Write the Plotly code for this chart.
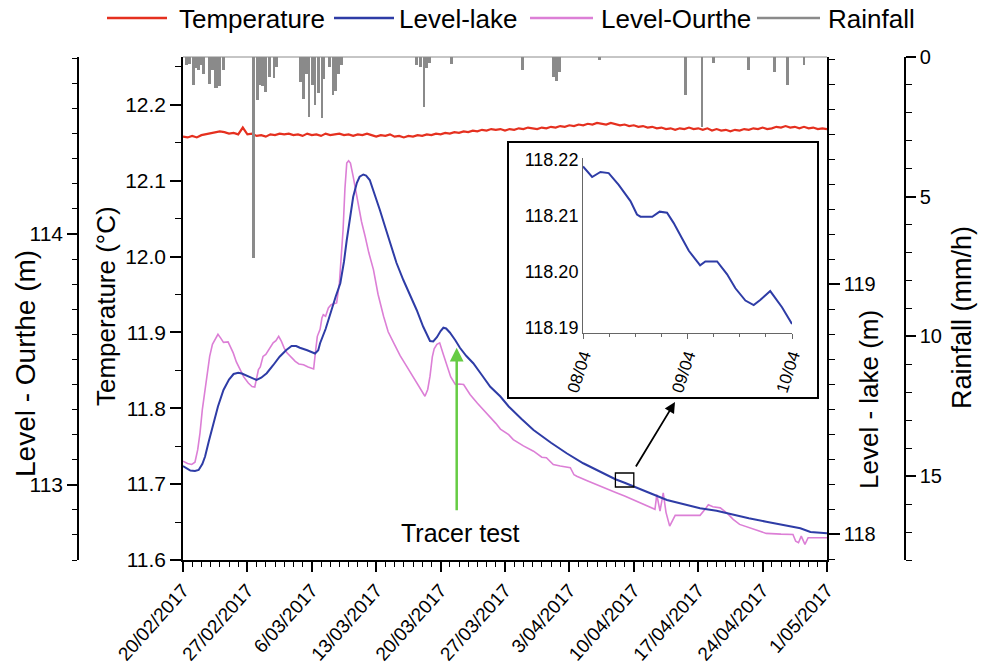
import pandas as pd
import plotly.graph_objects as go

# ---------------------------------------------------------------- data
START = pd.Timestamp("2017-02-20")
END = pd.Timestamp("2017-05-01")

# Water temperature (°C), one reading every half day from 20/02/2017
temp_step_days = 0.5
temp_c = [
    12.158, 12.157, 12.159, 12.157, 12.160, 12.161, 12.163, 12.164, 12.165, 12.164,
    12.162, 12.163, 12.161, 12.170, 12.161, 12.162, 12.159, 12.160, 12.158, 12.161,
    12.160, 12.162, 12.161, 12.162, 12.160, 12.161, 12.159, 12.162, 12.160, 12.161,
    12.159, 12.162, 12.160, 12.161, 12.162, 12.160, 12.161, 12.159, 12.161, 12.160,
    12.162, 12.160, 12.158, 12.160, 12.159, 12.161, 12.158, 12.159, 12.157, 12.159,
    12.158, 12.160, 12.159, 12.161, 12.160, 12.162, 12.161, 12.163, 12.162, 12.164,
    12.163, 12.165, 12.164, 12.166, 12.165, 12.167, 12.166, 12.168, 12.167, 12.168,
    12.166, 12.168, 12.167, 12.169, 12.168, 12.170, 12.169, 12.168, 12.170, 12.169,
    12.171, 12.170, 12.172, 12.171, 12.173, 12.172, 12.174, 12.173, 12.175, 12.174,
    12.176, 12.175, 12.174, 12.176, 12.174, 12.173, 12.174, 12.172, 12.173, 12.171,
    12.172, 12.170, 12.171, 12.169, 12.170, 12.168, 12.169, 12.167, 12.169, 12.168,
    12.170, 12.168, 12.169, 12.167, 12.169, 12.166, 12.168, 12.166, 12.167, 12.165,
    12.167, 12.166, 12.168, 12.167, 12.169, 12.168, 12.170, 12.168, 12.169, 12.171,
    12.170, 12.172, 12.170, 12.171, 12.169, 12.171, 12.169, 12.170, 12.168, 12.169,
    12.168,
]

# Lake level (m), days after 20/02/2017
lake_days = [
    0.0, 0.4, 0.8, 1.3, 1.7, 2.1, 2.4, 2.8, 3.3, 3.8, 4.4, 5.0, 5.5, 6.0, 6.4, 7.0,
    7.5, 8.0, 8.5, 9.1, 9.8, 10.5, 11.2, 11.8, 12.3, 12.7, 13.5, 14.35, 14.7, 14.9,
    15.5, 16.0, 16.6, 17.1, 17.5, 17.8, 18.2, 18.5, 18.9, 19.2, 19.6, 19.9, 20.3,
    20.8, 21.4, 22.0, 22.5, 23.2, 23.95, 24.7, 25.4, 26.1, 26.85, 27.2, 27.6, 28.0,
    28.3, 28.6, 29.0, 29.6, 30.1, 30.8, 31.55, 32.5, 33.4, 34.5, 35.4, 36.8, 38.1,
    40.0, 41.7, 43.5, 45.3, 47.0, 48.0, 49.0, 50.0, 50.8, 52.6, 54.5, 56.2, 58.0,
    59.8, 61.5, 63.4, 65.3, 67.1, 68.2, 69.0, 70.0,
]
lake_m = [
    118.272, 118.262, 118.254, 118.252, 118.256, 118.280, 118.310, 118.370, 118.443,
    118.510, 118.576, 118.618, 118.640, 118.645, 118.642, 118.632, 118.622, 118.616,
    118.625, 118.643, 118.675, 118.709, 118.735, 118.752, 118.752, 118.745, 118.735,
    118.722, 118.735, 118.763, 118.820, 118.883, 118.950, 119.003, 119.090, 119.176,
    119.280, 119.349, 119.405, 119.429, 119.438, 119.434, 119.416, 119.365, 119.296,
    119.225, 119.163, 119.085, 119.016, 118.955, 118.896, 118.830, 118.772, 118.770,
    118.787, 118.812, 118.825, 118.822, 118.806, 118.775, 118.745, 118.712, 118.683,
    118.635, 118.589, 118.550, 118.510, 118.460, 118.416, 118.365, 118.323, 118.283,
    118.249, 118.219, 118.205, 118.191, 118.176, 118.163, 118.136, 118.118, 118.103,
    118.093, 118.077, 118.063, 118.049, 118.036, 118.023, 118.008, 118.006, 118.003,
]

# Ourthe level (m), days after 20/02/2017
ourthe_days = [
    0.0, 0.5, 0.95, 1.3, 1.6, 1.85, 2.1, 2.4, 2.7, 2.9, 3.2, 3.5, 3.8, 4.1, 4.4, 4.9,
    5.2, 5.46, 5.8, 6.2, 6.6, 7.1, 7.5, 7.8, 8.0, 8.2, 8.4, 8.7, 9.0, 9.3, 9.8, 10.1,
    10.4, 10.7, 11.0, 11.3, 11.8, 12.2, 12.6, 13.1, 13.6, 14.2, 14.4, 14.6, 14.9,
    15.1, 15.25, 15.5, 15.8, 16.1, 16.4, 16.7, 17.0, 17.2, 17.4, 17.6, 17.8, 18.0,
    18.2, 18.5, 18.8, 19.05, 19.4, 19.8, 20.2, 20.7, 21.2, 21.8, 22.3, 22.9, 23.6,
    24.3, 25.0, 25.7, 26.3, 26.6, 26.85, 27.1, 27.3, 27.6, 27.9, 28.3, 28.7, 29.1,
    29.6, 30.0, 30.5, 31.2, 32.0, 33.0, 34.0, 34.5, 35.4, 35.9, 37.0, 38.1, 39.0,
    39.5, 40.25, 41.0, 42.1, 42.5, 42.8, 44.0, 45.3, 46.2, 47.1, 48.0, 48.9, 50.0,
    51.3, 51.5, 51.85, 52.2, 52.5, 52.9, 53.2, 53.5, 55.0, 56.2, 56.7, 57.1, 57.6,
    58.4, 59.2, 59.8, 60.5, 61.5, 62.5, 63.4, 65.0, 66.3, 66.6, 66.9, 67.2, 67.6,
    67.95, 69.0, 70.0,
]
ourthe_m = [
    113.094, 113.085, 113.081, 113.090, 113.140, 113.207, 113.300, 113.380, 113.470,
    113.512, 113.560, 113.579, 113.600, 113.585, 113.568, 113.570, 113.545, 113.526,
    113.490, 113.459, 113.430, 113.406, 113.392, 113.390, 113.420, 113.459, 113.470,
    113.512, 113.520, 113.539, 113.566, 113.575, 113.592, 113.572, 113.545, 113.526,
    113.505, 113.492, 113.482, 113.479, 113.470, 113.462, 113.530, 113.592, 113.620,
    113.665, 113.678, 113.672, 113.705, 113.718, 113.722, 113.725, 113.805, 113.900,
    114.017, 114.180, 114.283, 114.292, 114.283, 114.229, 114.170, 114.110, 114.050,
    113.990, 113.925, 113.858, 113.760, 113.672, 113.610, 113.566, 113.515, 113.473,
    113.430, 113.390, 113.353, 113.380, 113.433, 113.510, 113.542, 113.560, 113.566,
    113.520, 113.473, 113.430, 113.400, 113.402, 113.400, 113.360, 113.325, 113.287,
    113.245, 113.222, 113.200, 113.180, 113.155, 113.134, 113.110, 113.108, 113.081,
    113.075, 113.068, 113.040, 113.034, 113.015, 112.994, 112.980, 112.968, 112.955,
    112.941, 112.922, 112.902, 112.961, 112.895, 112.968, 112.890, 112.835, 112.860,
    112.878, 112.878, 112.878, 112.900, 112.920, 112.912, 112.908, 112.885, 112.862,
    112.842, 112.830, 112.815, 112.806, 112.803, 112.802, 112.775, 112.769, 112.795,
    112.762, 112.789, 112.789, 112.789,
]

# Rainfall intensity (mm/h), days after 20/02/2017
rain_days = [
    0.4, 0.7, 1.1, 1.4, 1.7, 2.0, 2.2, 2.9, 3.2, 3.5, 3.7, 3.95, 4.4,
    7.7, 8.1, 8.4, 8.6, 9.0, 9.4, 9.9, 10.2,
    12.8, 13.1, 13.4, 13.7, 14.1, 14.35, 14.7, 15.1, 15.3, 15.9, 16.3, 16.6, 16.9, 17.25,
    25.4, 25.8, 26.2, 26.5, 26.8, 29.2, 36.9, 40.3, 40.6, 40.9, 45.3,
    54.6, 56.4, 57.7, 61.5, 64.3, 65.7, 67.5,
]
rain_mm_h = [
    0.30, 0.25, 1.00, 0.40, 0.45, 0.30, 0.60, 0.95, 0.45, 1.10, 1.10, 1.05, 0.45,
    7.20, 1.55, 1.00, 1.05, 1.25, 0.70, 0.75, 0.35,
    0.90, 1.50, 0.60, 2.15, 1.00, 1.70, 1.30, 2.20, 0.80, 0.35, 1.35, 1.20, 0.60, 0.30,
    0.30, 0.35, 1.80, 0.40, 0.20, 0.25, 0.45, 0.70, 0.85, 0.55, 0.12,
    1.35, 2.50, 0.20, 0.45, 0.55, 1.00, 0.30,
]

# Detail of the lake level, hours after 08/04/2017 00:00
INSET_START = pd.Timestamp("2017-04-08")
INSET_END = pd.Timestamp("2017-04-10")
inset_hours = [
    0.0, 2.1, 4.0, 5.9, 8.2, 10.9, 12.4, 13.2, 15.9, 17.6, 19.3, 20.8, 22.7,
    24.3, 26.9, 28.1, 30.8, 33.1, 35.0, 37.3, 39.2, 40.7, 43.0, 45.7, 48.0,
]
inset_lake_m = [
    118.2188, 118.2169, 118.2178, 118.2176, 118.2155, 118.2126, 118.2102, 118.2098,
    118.2098, 118.2107, 118.2105, 118.2087, 118.2060, 118.2037, 118.2011, 118.2018,
    118.2018, 118.1995, 118.1970, 118.1948, 118.1940, 118.1949, 118.1965, 118.1936,
    118.1906,
]

TRACER_TEST = pd.Timestamp("2017-03-21 18:00")

series_names = ["Temperature", "Level-lake", "Level-Ourthe", "Rainfall"]

# ---------------------------------------------------------------- style
RED = "#e5301f"
BLUE = "#2e3ca6"
PINK = "#dc7fd6"
GREY = "#8a8a8a"
GREEN = "#66cc44"
FONT = "Liberation Sans, Arial, sans-serif"

W, H = 989, 669
M_L, M_R, M_T, M_B = 78, 84, 57, 109
PW, PH = W - M_L - M_R, H - M_T - M_B


def px_x(px):
    return (px - M_L) / PW


def px_y(py):
    return 1 - (py - M_T) / PH


def to_time(days, origin=START, unit="D"):
    return [origin + pd.Timedelta(d, unit=unit) for d in days]


temp_time = to_time([i * temp_step_days for i in range(len(temp_c))])
DAY_MS = 86400000

fig = go.Figure()
fig.add_trace(go.Bar(
    x=to_time(rain_days), y=rain_mm_h, yaxis="y4", name="Rainfall",
    marker=dict(color=GREY, line=dict(width=0)), width=0.3 * DAY_MS,
))
fig.add_trace(go.Scatter(
    x=temp_time, y=temp_c, yaxis="y", mode="lines", name="Temperature",
    line=dict(color=RED, width=2.2),
))
fig.add_trace(go.Scatter(
    x=to_time(ourthe_days), y=ourthe_m, yaxis="y2", mode="lines", name="Level-Ourthe",
    line=dict(color=PINK, width=1.6),
))
fig.add_trace(go.Scatter(
    x=to_time(lake_days), y=lake_m, yaxis="y3", mode="lines", name="Level-lake",
    line=dict(color=BLUE, width=2),
))
fig.add_trace(go.Scatter(
    x=to_time(inset_hours, INSET_START, "h"), y=inset_lake_m, xaxis="x2", yaxis="y5",
    mode="lines", line=dict(color=BLUE, width=2), showlegend=False,
))

axis_base = dict(
    showline=True, linecolor="black", linewidth=1.5, showgrid=False, zeroline=False,
    automargin=False, ticks="outside", tickcolor="black", tickwidth=1.5,
    tickfont=dict(family=FONT, size=21, color="black"),
)
minor_base = dict(ticks="outside", tickcolor="black", tickwidth=1.2)

X0, X1 = px_x(183), px_x(827)

fig.update_layout(
    width=W, height=H, autosize=False,
    margin=dict(l=M_L, r=M_R, t=M_T, b=M_B, pad=0, autoexpand=False),
    paper_bgcolor="white", plot_bgcolor="rgba(0,0,0,0)",
    showlegend=False, bargap=0,
    font=dict(family=FONT, color="black"),
    xaxis=dict(
        axis_base, domain=[X0, X1], anchor="y", type="date",
        range=[START, END], tick0=START, dtick=7 * DAY_MS,
        tickformat="%-d/%m/%Y", tickangle=-48, ticklen=10,
        tickfont=dict(family=FONT, size=19, color="black"),
        minor=dict(minor_base, dtick=DAY_MS, ticklen=5),
    ),
    yaxis=dict(
        axis_base, anchor="x", side="left", range=[11.6, 12.263],
        tick0=11.6, dtick=0.1, tickformat=".1f", ticklen=11,
        minor=dict(minor_base, dtick=0.05, ticklen=6),
    ),
    yaxis2=dict(
        axis_base, overlaying="y", anchor="free", position=0, side="left",
        range=[112.70, 114.706], tick0=113, dtick=1, ticklen=10,
        minor=dict(minor_base, dtick=0.1, ticklen=5),
    ),
    yaxis3=dict(
        axis_base, overlaying="y", anchor="x", side="right",
        range=[117.896, 119.908], tick0=118, dtick=1, ticklen=11,
        tickfont=dict(family=FONT, size=20, color="black"),
        minor=dict(minor_base, dtick=0.1, ticklen=6),
    ),
    yaxis4=dict(
        axis_base, overlaying="y", anchor="free", position=1, side="right",
        range=[18, 0], tick0=0, dtick=5, ticklen=10,
        tickfont=dict(family=FONT, size=20, color="black"),
        minor=dict(minor_base, dtick=1, ticklen=6),
    ),
    xaxis2=dict(
        showline=True, linecolor="#666", linewidth=1, showgrid=False, zeroline=False,
        automargin=False,
        domain=[px_x(583), px_x(792)], anchor="y5", type="date",
        range=[INSET_START, INSET_END], tick0=INSET_START, dtick=DAY_MS,
        tickformat="%d/%m", tickangle=-72, ticks="outside", ticklen=5,
        tickcolor="#666", tickfont=dict(family=FONT, size=17, color="black"),
        minor=dict(ticks="outside", dtick=DAY_MS / 4, ticklen=3, tickcolor="#666"),
    ),
    yaxis5=dict(
        showline=True, linecolor="#666", linewidth=1, showgrid=False, zeroline=False,
        automargin=False,
        domain=[px_y(333), px_y(158)], anchor="x2",
        range=[118.189, 118.2203], tick0=118.19, dtick=0.01, tickformat=".2f",
        ticks="", tickfont=dict(family=FONT, size=18, color="black"),
    ),
)

shapes = [
    # top border of the main frame
    dict(type="line", xref="paper", yref="paper", x0=X0, x1=X1, y0=1, y1=1,
         line=dict(color="#8c8c8c", width=1)),
    # inset frame
    dict(type="rect", xref="paper", yref="paper",
         x0=px_x(508), x1=px_x(818), y0=px_y(398), y1=px_y(142),
         line=dict(color="black", width=2), fillcolor="rgba(0,0,0,0)", layer="above"),
    # zoom window on the lake curve
    dict(type="rect", xref="x", yref="y3",
         x0=INSET_START, x1=INSET_END, y0=118.188, y1=118.244,
         line=dict(color="black", width=1.3), fillcolor="rgba(0,0,0,0)"),
]

annotations = [
    dict(text="", xref="paper", yref="paper", x=px_x(675), y=px_y(402),
         ax=-40, ay=66, showarrow=True, arrowhead=2, arrowsize=1.2,
         arrowwidth=1.8, arrowcolor="black"),
    dict(text="", xref="x", yref="y3", x=TRACER_TEST, y=118.745,
         ax=0, ay=164, showarrow=True, arrowhead=2, arrowsize=1.1,
         arrowwidth=2.5, arrowcolor=GREEN),
    dict(text="Tracer test", xref="paper", yref="paper", x=px_x(460), y=px_y(533),
         showarrow=False, xanchor="center", yanchor="middle",
         font=dict(family=FONT, size=25, color="black")),
]

# axis titles
for text, cx, cy, size in [
    ("Level - Ourthe (m)", 25, 364, 28),
    ("Temperature (°C)", 106, 306, 26),
    ("Level - lake (m)", 869, 400, 26),
    ("Rainfall (mm/h)", 962, 318, 27),
]:
    annotations.append(dict(
        text=text, xref="paper", yref="paper", x=px_x(cx), y=px_y(cy),
        textangle=-90, showarrow=False, xanchor="center", yanchor="middle",
        font=dict(family=FONT, size=size, color="black"),
    ))

# legend row
legend_colors = {"Temperature": RED, "Level-lake": BLUE, "Level-Ourthe": PINK, "Rainfall": GREY}
legend_slots = [(107, 167, 177), (334, 394, 397), (530, 593, 599), (757, 820, 826)]
for name, (l0, l1, tx) in zip(series_names, legend_slots):
    shapes.append(dict(type="line", xref="paper", yref="paper",
                       x0=px_x(l0), x1=px_x(l1), y0=px_y(18), y1=px_y(18),
                       line=dict(color=legend_colors[name], width=2.5)))
    annotations.append(dict(text=name, xref="paper", yref="paper", x=px_x(tx), y=px_y(19),
                            showarrow=False, xanchor="left", yanchor="middle",
                            font=dict(family=FONT, size=26, color="black")))

fig.update_layout(shapes=shapes, annotations=annotations)
fig.write_html("out.html")
